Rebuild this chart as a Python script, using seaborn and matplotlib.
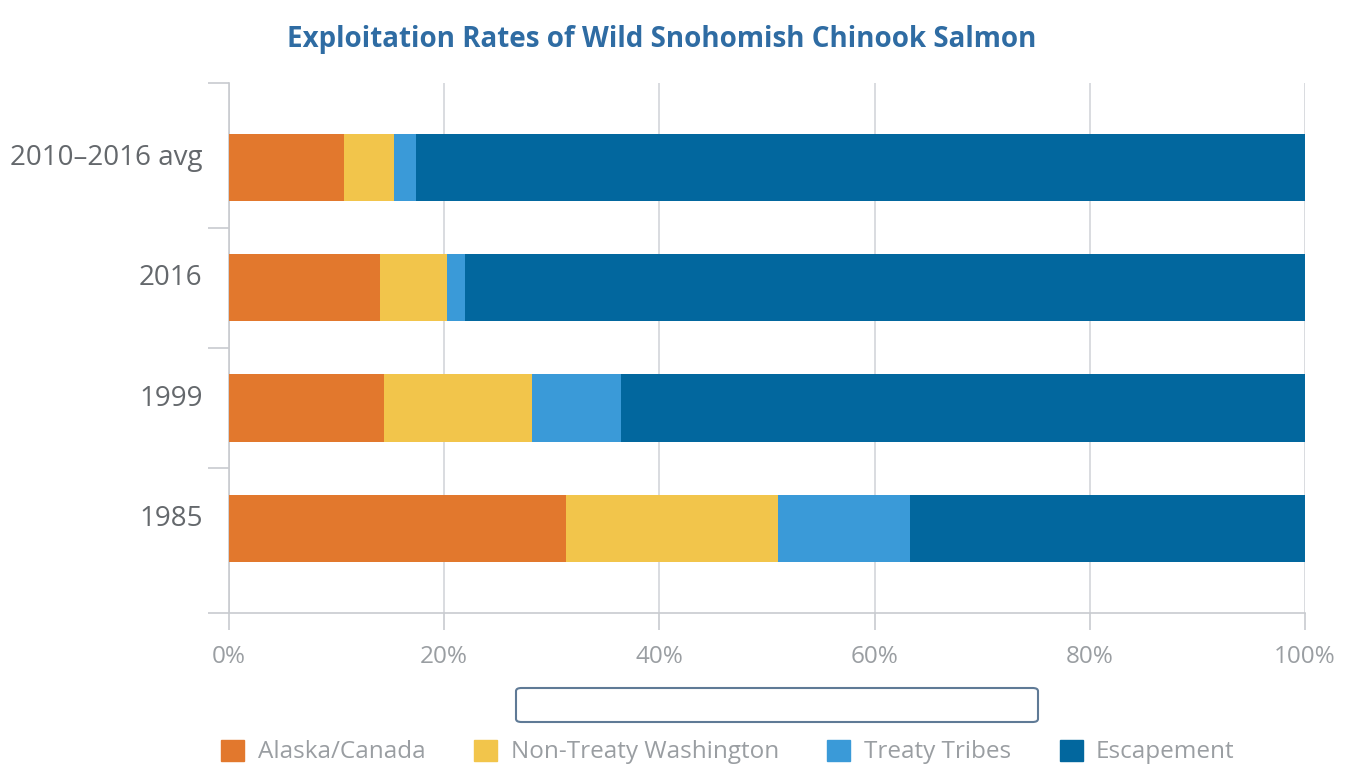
import matplotlib
matplotlib.use("Agg")
import pandas as pd
import matplotlib.pyplot as plt
import matplotlib.transforms as mtransforms
import seaborn as sns
from matplotlib.patches import FancyBboxPatch, Patch

# Data (percent of run)
years = ["2010\u20132016 avg", "2016", "1999", "1985"]
alaska_canada = [10.7, 14.0, 14.4, 31.3]
non_treaty_wa = [4.6, 6.3, 13.8, 19.7]
treaty_tribes = [2.05, 1.6, 8.2, 12.3]
escapement = [82.65, 78.1, 63.6, 36.7]

series = ["Alaska/Canada", "Non-Treaty Washington", "Treaty Tribes", "Escapement"]
colors = ["#E2782D", "#F2C54B", "#3A9AD8", "#02679E"]

df = pd.DataFrame({
    "year": years,
    "Alaska/Canada": alaska_canada,
    "Non-Treaty Washington": non_treaty_wa,
    "Treaty Tribes": treaty_tribes,
    "Escapement": escapement,
})
cum = df[series].cumsum(axis=1)

sns.set_style("white")
plt.rcParams["font.family"] = ["Open Sans", "DejaVu Sans"]

fig = plt.figure(figsize=(13.53, 7.82), dpi=100)
ax = fig.add_axes([229 / 1353, 1 - 613 / 782, (1305 - 229) / 1353, (613 - 83) / 782])

# Stacked bars: draw cumulative totals from the largest down
for name, col in reversed(list(zip(series, colors))):
    sns.barplot(x=cum[name], y=df["year"], orient="h", color=col, width=0.56,
                saturation=1, linewidth=0, ax=ax, zorder=3)

ax.set_xlim(0, 100)
ax.set_ylim(3.7, -0.7)
ax.set_xticks([0, 20, 40, 60, 80, 100])
ax.set_xticklabels(["0%", "20%", "40%", "60%", "80%", "100%"])
ax.xaxis.grid(True, color="#D3D6DA", linewidth=1.2, zorder=0)
ax.set_xlabel("")
ax.set_ylabel("")

for s in ["top", "right"]:
    ax.spines[s].set_visible(False)
for s in ["left", "bottom"]:
    ax.spines[s].set_color("#C8CBCF")
    ax.spines[s].set_linewidth(1.2)

ax.set_yticks([0, 1, 2, 3])
ax.set_yticklabels(years)
ax.set_yticks([-0.7, 0.5, 1.5, 2.5, 3.7], minor=True)
ax.tick_params(axis="y", which="major", left=True, length=0, pad=19, labelsize=20,
               labelcolor="#64686C")
ax.tick_params(axis="y", which="minor", left=True, length=15, width=1.2, color="#C8CBCF")
ax.tick_params(axis="x", bottom=True, length=12, width=1.2, color="#C8CBCF", pad=11,
               labelsize=17.5, labelcolor="#9A9EA2")

# category labels sit a little above the bar centres
shift = mtransforms.ScaledTranslation(0, 0.13, fig.dpi_scale_trans)
for lbl in ax.get_yticklabels():
    lbl.set_transform(lbl.get_transform() + shift)

fig.text(662 / 1353, 1 - 39 / 782, "Exploitation Rates of Wild Snohomish Chinook Salmon",
         ha="center", va="center", fontsize=20, fontweight="bold", color="#2F6CA3")

# empty slider box under the axis
box = FancyBboxPatch((516 / 1353, 1 - 722 / 782), (1038 - 516) / 1353, 34 / 782,
                     boxstyle="round,pad=0,rounding_size=0.004", transform=fig.transFigure,
                     facecolor="white", edgecolor="#5F7A96", linewidth=1.5)
fig.patches.append(box)

handles = [Patch(facecolor=c, edgecolor=c) for c in colors]
leg = fig.legend(handles, series, loc="center", bbox_to_anchor=(728 / 1353, 1 - 752 / 782),
                 ncol=4, frameon=False, fontsize=17.5, handlelength=0.95, handleheight=0.95,
                 handletextpad=0.55, columnspacing=2.0)
for t in leg.get_texts():
    t.set_color("#9A9EA2")

fig.savefig("out.png", dpi=100)
